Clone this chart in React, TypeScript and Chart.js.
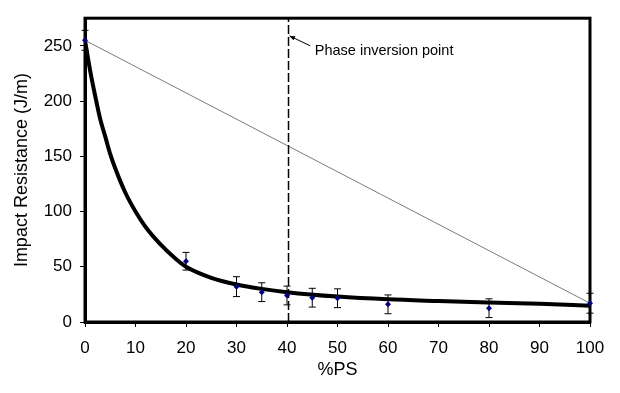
import React, { useEffect, useRef } from "react";
import { Chart, registerables } from "chart.js";

Chart.register(...registerables);

// Measured data points (%PS vs impact resistance, J/m) with error half-widths
const psPercent = [0, 20, 30, 35, 40, 45, 50, 60, 80, 100];
const impact = [255, 55, 32, 27, 24, 22, 21.5, 16, 12.5, 17];
const errorHalf = [9, 8, 9, 8.5, 8.5, 8.5, 8.5, 8.5, 8.5, 9];

// Thick fitted curve
const fitX = [0, 1, 2, 3, 4, 5, 6, 8, 10, 12, 15, 18, 20, 25, 30, 35, 40, 50, 60, 70, 80, 90, 100];
const fitY = [255, 228, 205, 184, 168, 152, 139, 117, 100, 86, 70, 57, 50, 40, 34, 30, 27, 23, 20.5, 19, 17.7, 16.5, 14.7];

// Straight rule-of-mixtures line between the end points
const mixX = [0, 100];
const mixY = [255, 17];

// Phase inversion marker
const inversionX = 40.3;
const annotationText = "Phase inversion point";

const xTicks = { min: 0, max: 100, step: 10 };
const yTicks = { min: 0, max: 275, step: 50 };

const FONT = "'Liberation Sans', Arial, sans-serif";

export default function App() {
  const ref = useRef<HTMLCanvasElement | null>(null);

  useEffect(() => {
    if (!ref.current) return;

    const overlay = {
      id: "overlay",
      beforeDatasetsDraw(chart: any) {
        const { ctx, chartArea } = chart;
        const xs = chart.scales.x;
        const ys = chart.scales.y;
        ctx.save();
        // frame
        ctx.strokeStyle = "#000";
        ctx.lineWidth = 3;
        ctx.strokeRect(chartArea.left, chartArea.top, chartArea.right - chartArea.left, chartArea.bottom - chartArea.top);
        // error bars
        ctx.lineWidth = 1;
        for (let i = 0; i < psPercent.length; i++) {
          const px = xs.getPixelForValue(psPercent[i]);
          const top = ys.getPixelForValue(impact[i] + errorHalf[i]);
          const bot = ys.getPixelForValue(impact[i] - errorHalf[i]);
          ctx.beginPath();
          ctx.moveTo(px, top);
          ctx.lineTo(px, bot);
          ctx.moveTo(px - 3.5, top);
          ctx.lineTo(px + 3.5, top);
          ctx.moveTo(px - 3.5, bot);
          ctx.lineTo(px + 3.5, bot);
          ctx.stroke();
        }
        ctx.restore();
      },
      afterDraw(chart: any) {
        const { ctx } = chart;
        const xs = chart.scales.x;
        const ys = chart.scales.y;
        ctx.save();
        // annotation arrow
        const hx = xs.getPixelForValue(inversionX) + 1;
        const hy = ys.getPixelForValue(259);
        const tx = xs.getPixelForValue(44.6);
        const ty = ys.getPixelForValue(250);
        ctx.strokeStyle = "#000";
        ctx.lineWidth = 1;
        ctx.beginPath();
        ctx.moveTo(tx, ty);
        ctx.lineTo(hx, hy);
        ctx.stroke();
        const ang = Math.atan2(hy - ty, hx - tx);
        ctx.beginPath();
        ctx.moveTo(hx, hy);
        ctx.lineTo(hx - 6 * Math.cos(ang - 0.4), hy - 6 * Math.sin(ang - 0.4));
        ctx.lineTo(hx - 6 * Math.cos(ang + 0.4), hy - 6 * Math.sin(ang + 0.4));
        ctx.closePath();
        ctx.fillStyle = "#000";
        ctx.fill();
        // annotation text
        ctx.font = `14.5px ${FONT}`;
        ctx.textBaseline = "middle";
        ctx.textAlign = "left";
        ctx.fillText(annotationText, xs.getPixelForValue(45.5), ys.getPixelForValue(245));
        ctx.restore();
      },
    };

    const chart = new Chart(ref.current, {
      type: "scatter",
      data: {
        datasets: [
          {
            label: "Measured",
            data: psPercent.map((x, i) => ({ x, y: impact[i] })),
            showLine: false,
            pointStyle: "rectRot",
            pointRadius: 3,
            backgroundColor: "#000080",
            borderColor: "#000080",
            borderWidth: 0,
            clip: false,
          },
          {
            label: "Fit",
            data: fitX.map((x, i) => ({ x, y: fitY[i] })),
            showLine: true,
            borderColor: "#000",
            borderWidth: 4,
            pointRadius: 0,
            cubicInterpolationMode: "monotone",
          },
          {
            label: "Mixing",
            data: mixX.map((x, i) => ({ x, y: mixY[i] })),
            showLine: true,
            borderColor: "#222",
            borderWidth: 0.6,
            pointRadius: 0,
          },
          {
            label: "Inversion",
            data: [
              { x: inversionX, y: yTicks.min },
              { x: inversionX, y: yTicks.max },
            ],
            showLine: true,
            borderColor: "#000",
            borderWidth: 1.5,
            borderDash: [9, 3],
            pointRadius: 0,
          },
        ],
      },
      options: {
        animation: false,
        responsive: false,
        layout: { padding: { left: 0, right: 30, top: 4, bottom: 0 } },
        plugins: { legend: { display: false }, tooltip: { enabled: false } },
        scales: {
          x: {
            type: "linear",
            min: xTicks.min,
            max: xTicks.max,
            afterFit(scale: any) {
              scale.height = 71;
            },
            ticks: {
              stepSize: xTicks.step,
              color: "#000",
              padding: 11,
              font: { family: FONT, size: 17 },
              maxRotation: 0,
            },
            grid: { drawOnChartArea: false, drawTicks: true, tickLength: 5, color: "#000", lineWidth: 1 },
            border: { display: true, color: "#000", width: 3 },
            title: {
              display: true,
              text: "%PS",
              color: "#000",
              font: { family: FONT, size: 18 },
              padding: { top: 0, bottom: 12 },
            },
          },
          y: {
            type: "linear",
            min: yTicks.min,
            max: yTicks.max,
            afterFit(scale: any) {
              scale.width = 85;
            },
            ticks: {
              stepSize: yTicks.step,
              includeBounds: false,
              color: "#000",
              padding: 8,
              font: { family: FONT, size: 17 },
            },
            grid: { drawOnChartArea: false, drawTicks: true, tickLength: 5, color: "#000", lineWidth: 1 },
            border: { display: true, color: "#000", width: 3 },
            title: {
              display: true,
              text: "Impact Resistance (J/m)",
              color: "#000",
              font: { family: FONT, size: 18 },
              padding: { top: 11, bottom: 0 },
            },
          },
        },
      },
      plugins: [overlay],
    } as any);

    return () => chart.destroy();
  }, []);

  return (
    <div style={{ position: "fixed", left: 0, top: 0, width: 620, height: 393, background: "#fff" }}>
      <canvas ref={ref} width={620} height={393} />
    </div>
  );
}
